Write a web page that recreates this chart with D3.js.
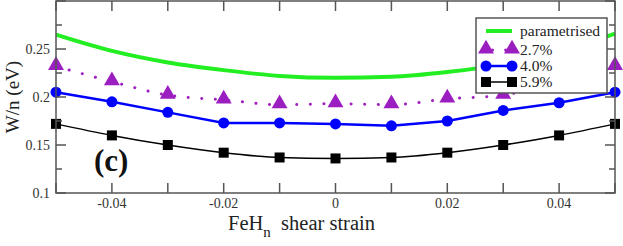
<!DOCTYPE html>
<html lang="en">
<head>
    <meta charset="UTF-8">
    <title>W/n vs shear strain</title>
    <script src="https://d3js.org/d3.v7.min.js"></script>
</head>
<body style="margin:0; background:#fff;">
    <div id="chart"></div>

    <script>
        // data
        var strain = [-0.05, -0.04, -0.03, -0.02, -0.01, 0, 0.01, 0.02, 0.03, 0.04, 0.05];
        var parametrised = [0.265, 0.248, 0.236, 0.228, 0.222, 0.220, 0.221, 0.226, 0.234, 0.247, 0.266];
        var s27 = [0.232, 0.216, 0.202, 0.197, 0.192, 0.193, 0.192, 0.198, 0.202, 0.216, 0.232];
        var s40 = [0.205, 0.195, 0.184, 0.173, 0.173, 0.172, 0.170, 0.175, 0.186, 0.194, 0.205];
        var s59 = [0.172, 0.160, 0.150, 0.142, 0.137, 0.136, 0.137, 0.142, 0.150, 0.160, 0.172];
        var xTicks = [-0.04, -0.02, 0, 0.02, 0.04];
        var yTicks = [0.1, 0.15, 0.2, 0.25];

        var width = 623, height = 246;
        var mLeft = 56, mRight = 615, mTop = 1, mBottom = 193;
        var axisColor = "#555";
        var serif = "'Liberation Serif'";

        var x = d3.scaleLinear().domain([-0.05, 0.05]).range([mLeft, mRight]);
        var y = d3.scaleLinear().domain([0.1, 0.3]).range([mBottom, mTop]);

        var svg = d3.select("#chart").append("svg")
            .attr("width", width)
            .attr("height", height)
            .style("display", "block");

        //series
        function pts(vals) {
            return strain.map(function(s, i) { return [s, vals[i]]; });
        }

        var plot = svg.append("g");

        var lineSmooth = d3.line()
            .x(function(d) { return x(d[0]); })
            .y(function(d) { return y(d[1]); })
            .curve(d3.curveMonotoneX);
        var lineStraight = d3.line()
            .x(function(d) { return x(d[0]); })
            .y(function(d) { return y(d[1]); });

        plot.append("path")
            .attr("d", lineSmooth(pts(parametrised)))
            .attr("fill", "none")
            .attr("stroke", "#22ee22")
            .attr("stroke-width", 4);

        plot.append("path")
            .attr("d", lineSmooth(pts(s59)))
            .attr("fill", "none")
            .attr("stroke", "#000")
            .attr("stroke-width", 1.5);

        plot.append("path")
            .attr("d", lineStraight(pts(s40)))
            .attr("fill", "none")
            .attr("stroke", "#0000ff")
            .attr("stroke-width", 2.5);

        plot.append("path")
            .attr("d", lineSmooth(pts(s27)))
            .attr("fill", "none")
            .attr("stroke", "#a020c0")
            .attr("stroke-width", 3)
            .attr("stroke-dasharray", "0.1,13.5")
            .attr("stroke-linecap", "round");

        var tri = d3.symbol().type(d3.symbolTriangle).size(110);

        plot.selectAll(".tri")
            .data(pts(s27))
            .enter()
            .append("path")
            .attr("transform", function(d) { return "translate(" + x(d[0]) + "," + (y(d[1]) - 1) + ")"; })
            .attr("d", tri)
            .attr("fill", "#9b1fc0");

        plot.selectAll(".dot")
            .data(pts(s40))
            .enter()
            .append("circle")
            .attr("cx", function(d) { return x(d[0]); })
            .attr("cy", function(d) { return y(d[1]); })
            .attr("r", 5.5)
            .attr("fill", "#0000ff");

        plot.selectAll(".sq")
            .data(pts(s59))
            .enter()
            .append("rect")
            .attr("x", function(d) { return x(d[0]) - 5; })
            .attr("y", function(d) { return y(d[1]) - 5; })
            .attr("width", 10)
            .attr("height", 10)
            .attr("fill", "#000");

        // frame + ticks
        var ax = svg.append("g").attr("stroke", axisColor).attr("stroke-width", 1.5);
        ax.append("rect")
            .attr("x", mLeft).attr("y", mTop)
            .attr("width", mRight - mLeft).attr("height", mBottom - mTop)
            .attr("fill", "none");

        d3.range(-0.05, 0.0501, 0.01).forEach(function(v) {
            ax.append("line").attr("x1", x(v)).attr("x2", x(v)).attr("y1", mBottom).attr("y2", mBottom - 10);
            ax.append("line").attr("x1", x(v)).attr("x2", x(v)).attr("y1", mTop).attr("y2", mTop + 10);
        });
        d3.range(0.1, 0.3001, 0.025).forEach(function(v, i) {
            var len = i % 2 === 0 ? 10 : 6;
            ax.append("line").attr("x1", mLeft).attr("x2", mLeft + len).attr("y1", y(v)).attr("y2", y(v));
            ax.append("line").attr("x1", mRight).attr("x2", mRight - len).attr("y1", y(v)).attr("y2", y(v));
        });

        svg.selectAll(".xl")
            .data(xTicks)
            .enter()
            .append("text")
            .attr("x", function(d) { return x(d); })
            .attr("y", 208)
            .attr("text-anchor", "middle")
            .attr("font-size", "14px")
            .attr("fill", "#333")
            .text(function(d) { return d === 0 ? "0" : String(d); });

        svg.selectAll(".yl")
            .data(yTicks)
            .enter()
            .append("text")
            .attr("x", 50)
            .attr("y", function(d) { return y(d) + 5; })
            .attr("text-anchor", "end")
            .attr("font-size", "14px")
            .attr("fill", "#333")
            .text(function(d) { return String(d); });

        // axis titles
        var xt = svg.append("text")
            .attr("x", 228)
            .attr("y", 230)
            .attr("font-size", "20.5px")
            .attr("fill", "#222");
        xt.append("tspan").text("FeH");
        xt.append("tspan").attr("font-size", "15px").attr("dy", 7).text("n");
        xt.append("tspan").attr("dy", -7).text("\u00a0 shear strain");

        svg.append("text")
            .attr("transform", "translate(19,97) rotate(-90)")
            .attr("text-anchor", "middle")
            .attr("font-size", "19px")
            .attr("fill", "#222")
            .text("W/n (eV)");

        svg.append("text")
            .attr("x", 94)
            .attr("y", 171)
            .attr("font-size", "31px")
            .attr("font-weight", "bold")
            .attr("fill", "#111")
            .text("(c)");

        // legend
        var lg = svg.append("g");
        lg.append("rect")
            .attr("x", 476).attr("y", 18)
            .attr("width", 131).attr("height", 75)
            .attr("fill", "#fff")
            .attr("stroke", axisColor)
            .attr("stroke-width", 1.5);

        var lx0 = 486, lx1 = 512;
        var rows = [
            { name: "parametrised", y: 31 },
            { name: "2.7%", y: 50 },
            { name: "4.0%", y: 66 },
            { name: "5.9%", y: 82 }
        ];
        lg.append("line").attr("x1", lx0).attr("x2", lx1).attr("y1", 31).attr("y2", 31)
            .attr("stroke", "#22ee22").attr("stroke-width", 4);
        lg.append("line").attr("x1", lx0).attr("x2", lx1).attr("y1", 50).attr("y2", 50)
            .attr("stroke", "#a020c0").attr("stroke-width", 3).attr("stroke-dasharray", "0.1,13")
            .attr("stroke-dashoffset", -6.5).attr("stroke-linecap", "round");
        [lx0, lx1].forEach(function(px) {
            lg.append("path").attr("transform", "translate(" + px + ",49)").attr("d", tri).attr("fill", "#9b1fc0");
        });
        lg.append("line").attr("x1", lx0).attr("x2", lx1).attr("y1", 66).attr("y2", 66)
            .attr("stroke", "#0000ff").attr("stroke-width", 2.5);
        [lx0, lx1].forEach(function(px) {
            lg.append("circle").attr("cx", px).attr("cy", 66).attr("r", 5.5).attr("fill", "#0000ff");
        });
        lg.append("line").attr("x1", lx0).attr("x2", lx1).attr("y1", 82).attr("y2", 82)
            .attr("stroke", "#000").attr("stroke-width", 1.5);
        [lx0, lx1].forEach(function(px) {
            lg.append("rect").attr("x", px - 5).attr("y", 77).attr("width", 10).attr("height", 10).attr("fill", "#000");
        });

        lg.selectAll(".lt")
            .data(rows)
            .enter()
            .append("text")
            .attr("x", 520)
            .attr("y", function(d) { return d.y + 5; })
            .attr("font-size", "15.5px")
            .attr("fill", "#222")
            .text(function(d) { return d.name; });

        // serif everywhere, set on each text directly
        svg.selectAll("text").style("font-family", serif);
    </script>
</body>
</html>
